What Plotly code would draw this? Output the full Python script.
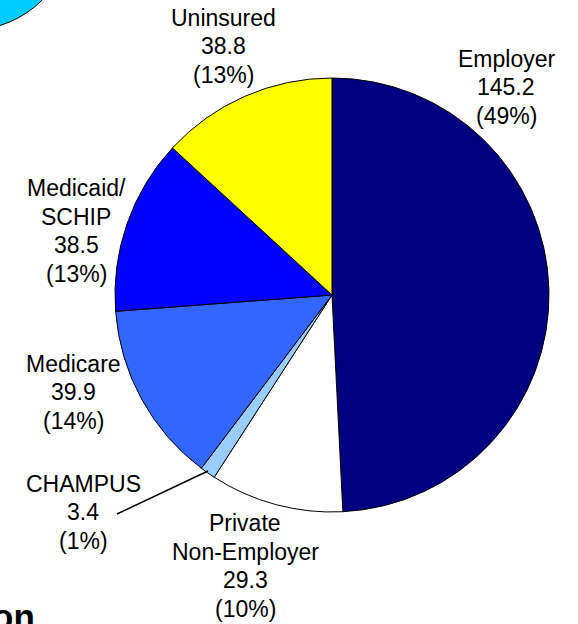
import plotly.graph_objects as go

W, H = 578, 624

# coverage in millions, clockwise from 12 o'clock
labels = ['Employer', 'Private<br>Non-Employer', 'CHAMPUS', 'Medicare', 'Medicaid/<br>SCHIP', 'Uninsured']
values = [145.2, 29.3, 3.4, 39.9, 38.5, 38.8]
colors = ['#000080', '#FFFFFF', '#99CCFF', '#3366FF', '#0000FF', '#FFFF00']

# label block centres (pixels)
label_pos = [(506, 87), (245, 566), (83, 512), (73, 392), (76, 231), (223, 46.5)]
LINE = 28.5


def px(x):
    return x / W


def py(y):
    return 1 - y / H


cx, cy, r = 332, 295, 217

fig = go.Figure()
fig.add_trace(go.Pie(
    values=values,
    labels=labels,
    sort=False,
    direction='clockwise',
    rotation=0,
    marker=dict(colors=colors, line=dict(color='black', width=1)),
    textinfo='none',
    hoverinfo='skip',
    showlegend=False,
    domain=dict(x=[px(cx - r), px(cx + r)], y=[py(cy + r), py(cy - r)]),
))

total = sum(values)
for lab, v, (lx, ly) in zip(labels, values, label_pos):
    lines = lab.split('<br>') + [f"{v}", f"({round(v / total * 100)}%)"]
    n = len(lines)
    for i, t in enumerate(lines):
        fig.add_annotation(
            x=px(lx), y=py(ly + (i - (n - 1) / 2) * LINE), xref='paper', yref='paper',
            text=t, showarrow=False, xanchor='center', yanchor='middle',
            font=dict(family='Liberation Sans, Arial', size=23, color='black'),
        )

# leader line for CHAMPUS
fig.add_shape(type='line', xref='paper', yref='paper',
              x0=px(117), y0=py(514), x1=px(208), y1=py(471),
              line=dict(color='black', width=1.5))

# cut-off cyan disc at top-left
fig.add_shape(type='circle', xref='paper', yref='paper',
              x0=px(-132), y0=py(-174), x1=px(72), y1=py(30),
              fillcolor='#00CCFF', line=dict(color='black', width=1), layer='below')

# cut-off title at bottom-left
fig.add_annotation(
    x=px(37), y=py(595), xref='paper', yref='paper',
    text='<b>Population</b>', showarrow=False, xanchor='right', yanchor='top',
    font=dict(family='Liberation Sans, Arial', size=35, color='black'),
)

fig.update_layout(
    width=W, height=H,
    margin=dict(l=0, r=0, t=0, b=0),
    paper_bgcolor='white', plot_bgcolor='white',
)

fig.write_html("out.html", config={'displayModeBar': False},
               post_script="document.body.style.margin='0';")
